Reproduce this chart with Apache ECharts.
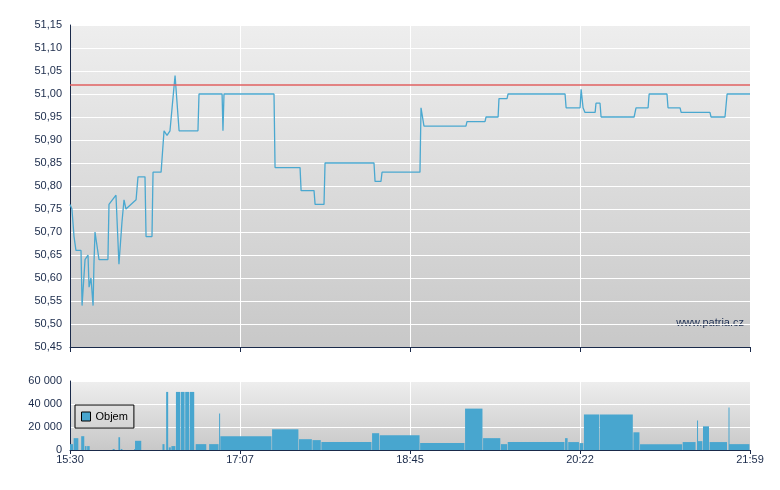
<!DOCTYPE html>
<html><head><meta charset="utf-8">
<script src="https://cdn.jsdelivr.net/npm/echarts@6/dist/echarts.min.js"></script>
<style>html,body{margin:0;padding:0;background:#fff}#c{width:780px;height:490px}</style>
</head><body><div id="c"></div>
<script>
// minutes after 15:30
const priceMinutes = [0,1.1,2.3,3.4,6.3,6.9,8.6,10.3,10.9,12.0,13.2,13.7,14.3,16.6,21.7,22.3,26.3,28.0,29.7,30.9,32.0,37.8,38.9,42.9,43.5,46.9,47.5,52.1,53.8,55.5,57.2,58.4,60.1,62.4,73.2,73.8,87.0,87.5,88.1,116.7,117.3,131.6,132.2,139.6,140.2,145.3,145.9,173.9,174.5,177.9,178.5,200.2,200.8,202.5,226.5,227.1,237.4,238.0,244.9,245.4,250.0,250.6,283.2,283.8,291.8,292.4,293.5,294.6,300.4,300.9,303.2,303.8,322.7,323.8,330.7,331.3,341.5,342.1,349.0,349.6,366.1,366.7,374.7,375.9,389];
const priceValues = [50.76,50.75,50.69,50.66,50.66,50.54,50.64,50.65,50.58,50.60,50.54,50.63,50.70,50.64,50.64,50.76,50.78,50.63,50.72,50.77,50.75,50.77,50.82,50.82,50.69,50.69,50.83,50.83,50.92,50.91,50.92,50.97,51.04,50.92,50.92,51.00,51.00,50.92,51.00,51.00,50.84,50.84,50.79,50.79,50.76,50.76,50.85,50.85,50.81,50.81,50.83,50.83,50.97,50.93,50.93,50.94,50.94,50.95,50.95,50.99,50.99,51.00,51.00,50.97,50.97,51.01,50.97,50.96,50.96,50.98,50.98,50.95,50.95,50.97,50.97,51.00,51.00,50.97,50.97,50.96,50.96,50.95,50.95,51.00,51.00];
const prevClose = 51.02;
const volStart = [0,2.1,6.4,8.5,9.8,24.4,27.7,29.0,36.7,37.2,52.9,55.0,56.5,58.0,60.6,63.3,65.9,68.5,71.9,79.6,85.3,86.0,115.6,131.0,138.7,143.8,172.8,177.2,200.3,226.0,236.3,246.5,250.4,283.2,285.0,291.5,294.0,303.0,322.3,326.1,350.5,358.7,359.0,362.1,365.9,376.7,377.0];
const volEnd =   [2.1,5.1,8.5,9.8,11.6,25.9,29.0,30.3,37.2,41.1,54.4,56.5,58.0,60.6,63.3,65.9,68.5,71.4,78.3,85.3,85.5,115.6,131.0,138.7,143.8,172.8,177.2,200.3,226.0,236.3,246.5,250.4,283.2,285.0,291.5,294.0,303.0,322.3,326.1,350.5,358.2,359.0,362.1,365.9,376.2,377.0,389];
const volValues = [5100,10300,12000,3400,3400,900,11100,900,900,8000,5100,50500,2300,3400,50500,50500,50500,50500,5100,5100,31700,12000,18000,9400,8600,6900,14600,12900,6000,36000,10300,5100,6900,10300,6900,6000,30900,30900,15400,5100,6900,25700,7700,20600,6900,36900,5100];
const xTickLabels = ['15:30','17:07','18:45','20:22','21:59'];

const bg = {type:'linear',x:0,y:0,x2:0,y2:1,colorStops:[{offset:0,color:'#eeeeee'},{offset:1,color:'#c8c8c8'}]};
const lineC = '#4aa8d0';
const axisC = '#1a2a4a';
const fmtTime = v => xTickLabels[Math.round(v/97.25)] || '';
const chart = echarts.init(document.getElementById('c'));
chart.setOption({
  animation:false,
  textStyle:{fontFamily:'Arial, Liberation Sans, sans-serif'},
  grid:[
    {left:70,right:30,top:25,height:322,show:true,backgroundColor:bg,borderWidth:0},
    {left:70,right:30,top:381,height:69,show:true,backgroundColor:bg,borderWidth:0}
  ],
  legend:{data:['Objem'],left:75,top:405,orient:'vertical',padding:[6,6,6,6],borderColor:'#000',borderWidth:1,borderRadius:0,
    backgroundColor:'transparent',
    itemWidth:9,itemHeight:9,icon:'rect',textStyle:{fontSize:11,color:'#000'},itemStyle:{borderColor:'#000',borderWidth:1}},
  xAxis:[
    {gridIndex:0,type:'value',min:0,max:389,interval:97.25,axisLabel:{show:false},
      axisLine:{lineStyle:{color:axisC}},axisTick:{length:5,lineStyle:{color:axisC}},
      splitLine:{lineStyle:{color:'#fff',width:1}}},
    {gridIndex:1,type:'value',min:0,max:389,interval:97.25,
      axisLabel:{formatter:fmtTime,color:'#1a2a4a',fontSize:11,margin:4},
      axisLine:{lineStyle:{color:axisC}},axisTick:{length:4,lineStyle:{color:axisC}},
      splitLine:{lineStyle:{color:'#fff',width:1}}}
  ],
  yAxis:[
    {gridIndex:0,type:'value',min:50.45,max:51.15,interval:0.05,
      axisLabel:{formatter:v=>v.toFixed(2).replace('.',','),color:'#1a2a4a',fontSize:11},
      axisLine:{show:true,lineStyle:{color:axisC}},axisTick:{show:false},
      splitLine:{lineStyle:{color:'#fff',width:1}}},
    {gridIndex:1,type:'value',min:0,max:60000,interval:20000,
      axisLabel:{formatter:v=>String(v).replace(/\B(?=(\d{3})+(?!\d))/g,' '),color:'#1a2a4a',fontSize:11},
      axisLine:{show:true,lineStyle:{color:axisC}},axisTick:{show:false},
      splitLine:{lineStyle:{color:'#fff',width:1}}}
  ],
  graphic:[{type:'text',right:36,top:317,style:{text:'www.patria.cz',fill:'#223355',fontSize:11,fontFamily:'Arial, Liberation Sans, sans-serif'}}],
  series:[
    {type:'line',xAxisIndex:0,yAxisIndex:0,data:priceMinutes.map((m,i)=>[m,priceValues[i]]),
      showSymbol:false,lineStyle:{color:lineC,width:1.3},z:3,
      markLine:{silent:true,symbol:'none',label:{show:false},lineStyle:{color:'#e06060',type:'solid',width:1.5},data:[{yAxis:prevClose}]}},
    {name:'Objem',type:'custom',xAxisIndex:1,yAxisIndex:1,itemStyle:{color:'#48a6cf'},
      data:volStart.map((s,i)=>[s,volEnd[i],volValues[i]]),
      renderItem:(params,api)=>{
        const p0=api.coord([api.value(0),api.value(2)]);
        const p1=api.coord([api.value(1),0]);
        return {type:'rect',shape:{x:p0[0],y:p0[1],width:Math.max(1,p1[0]-p0[0]-0.6),height:p1[1]-p0[1]},style:{fill:'#48a6cf'}};
      }}
  ]
});
</script></body></html>
